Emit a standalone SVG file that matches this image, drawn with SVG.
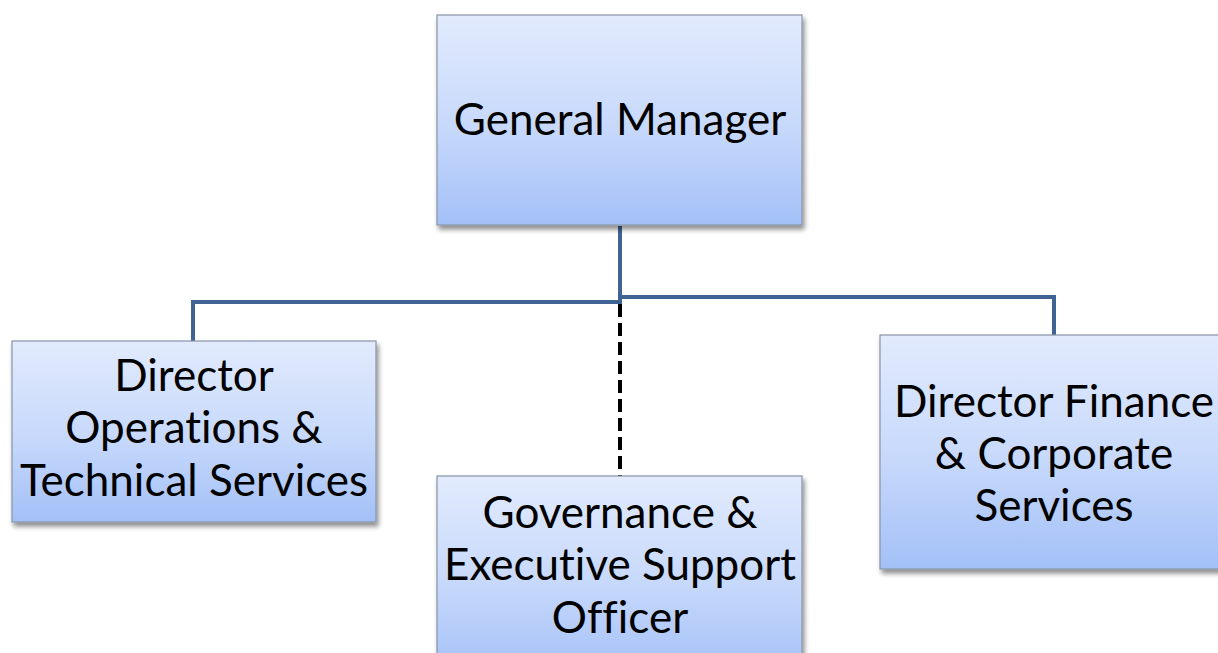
<svg xmlns="http://www.w3.org/2000/svg" width="1218" height="653" viewBox="0 0 1218 653">
  <defs>
    <linearGradient id="boxFill" x1="0" y1="0" x2="0" y2="1">
      <stop offset="0" stop-color="#e2ebfd"/>
      <stop offset="0.55" stop-color="#c6d8fb"/>
      <stop offset="1" stop-color="#a3c0f7"/>
    </linearGradient>
    <filter id="shadow" x="-10%" y="-10%" width="125%" height="130%">
      <feGaussianBlur in="SourceAlpha" stdDeviation="2.5"/>
      <feOffset dx="2" dy="4" result="b"/>
      <feComponentTransfer><feFuncA type="linear" slope="0.45"/></feComponentTransfer>
      <feMerge><feMergeNode/><feMergeNode in="SourceGraphic"/></feMerge>
    </filter>
  </defs>
  <style>
    .box { fill: url(#boxFill); stroke: #8894a6; stroke-width: 1.2; filter: url(#shadow); }
    .label { font-family: "Lato", "Open Sans", "Liberation Sans", sans-serif; font-size: 44px; fill: #000; text-anchor: middle; font-variant-ligatures: none; }
    .solid { fill: none; stroke: #3f6494; stroke-width: 4; stroke-linejoin: miter; }
    .dashed { fill: none; stroke: #000; stroke-width: 4; stroke-dasharray: 13 6; }
  </style>

  <rect width="1218" height="653" fill="#ffffff"/>

  <!-- connectors -->
  <g id="connectors">
    <path class="solid" d="M620 226 V302 H193 V341"/>
    <path class="solid" d="M620 297 H1054 V335"/>
    <path class="dashed" d="M620 304 V476"/>
  </g>

  <g id="general-manager">
    <rect class="box" x="437" y="15" width="365" height="210"/>
    <text class="label" x="620" y="135">General Manager</text>
  </g>

  <g id="director-operations">
    <rect class="box" x="12" y="341" width="364" height="181"/>
    <text class="label" x="194" y="391">Director</text>
    <text class="label" x="194" y="443">Operations &amp;</text>
    <text class="label" x="194" y="496">Technical Services</text>
  </g>

  <g id="governance-officer">
    <rect class="box" x="437" y="476" width="365" height="200"/>
    <text class="label" x="620" y="528">Governance &amp;</text>
    <text class="label" x="620" y="580">Executive Support</text>
    <text class="label" x="620" y="633">Officer</text>
  </g>

  <g id="director-finance">
    <rect class="box" x="880" y="335" width="350" height="234"/>
    <text class="label" x="1054" y="417">Director Finance</text>
    <text class="label" x="1054" y="469">&amp; Corporate</text>
    <text class="label" x="1054" y="521">Services</text>
  </g>
</svg>
